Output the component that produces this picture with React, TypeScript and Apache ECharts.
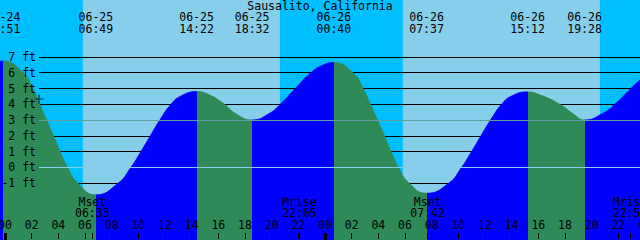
import React, { useEffect, useRef } from "react";
import * as echarts from "echarts";

// ---------- data ----------
const chartTitle = "Sausalito, California";

// tide extremes (high / low)
const tideEventDates = ["06-24", "06-25", "06-25", "06-25", "06-26", "06-26", "06-26", "06-26"];
const tideEventTimes = ["23:51", "06:49", "14:22", "18:32", "00:40", "07:37", "15:12", "19:28"];

// tide curve: hours since 06-25 00:00, level in ft
const tideHours = [
  -0.375, -0.15, 1.35, 2.08, 2.6, 3.12, 3.63, 4.13, 4.68, 5.45, 6.817,
  8.5, 9.45, 10.2, 10.9, 11.62, 12.45, 13.15, 14.367,
  15.3, 16.45, 17.3, 18.533,
  19.8, 20.65, 21.78, 22.95, 23.9, 24.667,
  26.1, 26.85, 27.4, 27.93, 28.45, 28.95, 29.5, 30.3, 31.617,
  33.3, 34.25, 35.0, 35.7, 36.42, 37.25, 37.95, 39.2,
  40.1, 41.6, 42.6, 43.467,
  44.8, 45.75, 46.95, 47.625,
];
const tideFeet = [
  6.72, 6.74, 6.0, 5.0, 4.0, 3.0, 2.0, 1.0, 0.0, -1.0, -1.75,
  -1.0, 0.0, 1.0, 2.0, 3.0, 4.0, 4.5, 4.8,
  4.6, 4.0, 3.4, 3.0,
  3.4, 4.0, 5.0, 6.0, 6.5, 6.64,
  6.0, 5.0, 4.0, 3.0, 2.0, 1.0, 0.0, -1.0, -1.65,
  -1.0, 0.0, 1.0, 2.0, 3.0, 4.0, 4.5, 4.78,
  4.6, 4.0, 3.4, 3.0,
  3.4, 4.0, 5.0, 5.55,
];

// sun
const sunriseDates = ["06-25", "06-26"];
const sunriseTimes = ["05:50", "05:50"];
const sunsetDates = ["06-25", "06-26"];
const sunsetTimes = ["20:37", "20:37"];

// moon
const moonEvents = ["Mset", "Mrise", "Mset", "Mrise"];
const moonDates = ["06-25", "06-25", "06-26", "06-26"];
const moonTimes = ["06:33", "22:05", "07:42", "22:53"];

// level lines / labels (ft)
const levelTicks = [-2, -1, 0, 1, 2, 3, 4, 5, 6, 7];
const datumLevel = 0;
const meanLevel = 3;

// "now" marker
const nowDate = "06-25";
const nowTime = "02:33";
const nowFeet = 4.33;

// ---------- style / layout ----------
const W = 640;
const H = 240;
const NIGHT = "#00BFFF";
const DAY = "#87CEEB";
const RISE = "#0000FF";
const FALL = "#2E8B57";
const DATUM_COLOR = "#87CEEB";
const MSL_COLOR = "#5F9EA0";
const FONT = "DejaVu Sans Mono";
const FS = 11.5;

const PX_PER_HOUR = 40 / 3;
const MIDNIGHT_X = 5;
const X_MIN = -MIDNIGHT_X / PX_PER_HOUR;
const X_MAX = (W - MIDNIGHT_X) / PX_PER_HOUR;
const ZERO_Y = 167.3;
const PX_PER_FT = 15.76;
const Y_MAX = ZERO_Y / PX_PER_FT;
const Y_MIN = -(H - ZERO_Y) / PX_PER_FT;
const LINE_LEFT = 39;
const LV_MIN = levelTicks[0];
const LV_MAX = levelTicks[levelTicks.length - 1];
const LV_TOP = ZERO_Y - LV_MAX * PX_PER_FT;
const LV_BOTTOM = H - (ZERO_Y - LV_MIN * PX_PER_FT);
const AXIS_SPAN = 48;
const AXIS_RIGHT = W - (MIDNIGHT_X + AXIS_SPAN * PX_PER_HOUR);

function toHours(date: string, time: string): number {
  const day = parseInt(date.slice(3), 10) - 25;
  const [h, m] = time.split(":").map(Number);
  return day * 24 + h + m / 60;
}

const tideEventHours = tideEventDates.map((d, i) => toHours(d, tideEventTimes[i]));
const moonHours = moonDates.map((d, i) => toHours(d, moonTimes[i]));
const sunrises = sunriseDates.map((d, i) => toHours(d, sunriseTimes[i]));
const sunsets = sunsetDates.map((d, i) => toHours(d, sunsetTimes[i]));

function findIdx(arr: number[], v: number) {
  let best = 0;
  for (let i = 0; i < arr.length; i++) if (Math.abs(arr[i] - v) < Math.abs(arr[best] - v)) best = i;
  return best;
}

function buildOption() {
  // rising / falling pieces
  const pieces: any[] = [];
  const isHigh = (i: number) => {
    const idx = findIdx(tideHours, tideEventHours[i]);
    const nextIdx = Math.min(idx + 1, tideFeet.length - 1);
    return tideFeet[idx] > tideFeet[nextIdx];
  };
  pieces.push({ lt: tideEventHours[0], color: isHigh(0) ? RISE : FALL });
  for (let i = 0; i < tideEventHours.length; i++) {
    const next = tideEventHours[i + 1];
    const color = isHigh(i) ? FALL : RISE;
    if (next === undefined) pieces.push({ gte: tideEventHours[i], color });
    else pieces.push({ gte: tideEventHours[i], lt: next, color });
  }

  const txt = { fontFamily: FONT, fontSize: FS, color: "#000" };
  const hiddenY = (gridIndex: number) => ({ type: "value", gridIndex, min: 0, max: 1, show: false });
  const g = (o: any) => ({ ...o, outerBoundsMode: "none", containLabel: false });

  return {
    animation: false,
    backgroundColor: NIGHT,
    title: {
      text: chartTitle,
      left: "center",
      top: 0,
      padding: 0,
      textStyle: { ...txt, fontWeight: "normal", lineHeight: 11 },
    },
    grid: [
      g({ left: 0, right: 0, top: 0, bottom: 0 }),
      g({ left: LINE_LEFT, right: 0, top: LV_TOP, bottom: LV_BOTTOM }),
      g({ left: 0, right: 0, top: 0, bottom: 0 }),
      g({ left: MIDNIGHT_X, right: AXIS_RIGHT, top: 0, bottom: 1 }),
      g({ left: MIDNIGHT_X, right: AXIS_RIGHT, top: 0, bottom: 0 }),
      g({ left: MIDNIGHT_X, right: AXIS_RIGHT, top: 0, bottom: 1 }),
    ],
    xAxis: [
      { type: "value", gridIndex: 0, min: X_MIN, max: X_MAX, show: false },
      { type: "value", gridIndex: 1, min: 0, max: 1, show: false },
      {
        type: "value", gridIndex: 2, position: "top", min: X_MIN, max: X_MAX, z: 10,
        axisLine: { show: false }, axisTick: { show: false }, splitLine: { show: false },
        axisLabel: {
          inside: true, margin: 11, customValues: tideEventHours, ...txt, lineHeight: 12, align: "center",
          formatter: (v: number) => {
            const i = findIdx(tideEventHours, v);
            return `${tideEventDates[i]}\n${tideEventTimes[i]}`;
          },
        },
      },
      {
        type: "value", gridIndex: 3, position: "bottom", min: 0, max: AXIS_SPAN, interval: 2, z: 10,
        axisLine: { show: false }, splitLine: { show: false },
        axisTick: { show: true, inside: true, length: 6, lineStyle: { color: "#000", width: 1 } },
        axisLabel: {
          inside: true, margin: 8, ...txt, lineHeight: 12, align: "center",
          formatter: (v: number) => String(v % 24).padStart(2, "0"),
        },
      },
      {
        type: "value", gridIndex: 4, position: "bottom", min: 0, max: AXIS_SPAN, z: 10,
        axisLine: { show: false }, splitLine: { show: false }, axisLabel: { show: false },
        axisTick: { show: true, inside: true, length: 7, customValues: [0, 24, 48], lineStyle: { color: "#000", width: 3 } },
      },
      {
        type: "value", gridIndex: 5, position: "bottom", min: 0, max: AXIS_SPAN, z: 10,
        axisLine: { show: false }, splitLine: { show: false },
        axisTick: { show: true, inside: true, length: 6, customValues: moonHours, lineStyle: { color: "#000", width: 1 } },
        axisLabel: {
          inside: true, margin: 21, customValues: moonHours, ...txt, lineHeight: 11, align: "center",
          formatter: (v: number) => {
            const i = findIdx(moonHours, v);
            return `${moonEvents[i]}\n${moonTimes[i]}`;
          },
        },
      },
    ],
    yAxis: [
      { type: "value", gridIndex: 0, min: Y_MIN, max: Y_MAX, show: false },
      {
        type: "value", gridIndex: 1, position: "right", min: LV_MIN, max: LV_MAX, interval: 1, z: 1,
        axisLine: { show: false }, axisTick: { show: false }, axisLabel: { show: false },
        splitLine: { show: true, lineStyle: { color: "#000", width: 1 } },
      },
      {
        type: "value", gridIndex: 1, position: "left", min: LV_MIN, max: LV_MAX, interval: 1, z: 10,
        axisLine: { show: false }, axisTick: { show: false }, splitLine: { show: false },
        axisLabel: {
          margin: 3, ...txt,
          formatter: (v: number) => (v === LV_MIN ? "" : `${v} ft`),
        },
      },
      hiddenY(2),
      hiddenY(3),
      hiddenY(4),
      hiddenY(5),
    ],
    visualMap: {
      type: "piecewise",
      show: false,
      dimension: 0,
      seriesIndex: 1,
      pieces,
    },
    series: [
      {
        type: "line",
        xAxisIndex: 0,
        yAxisIndex: 0,
        data: [[X_MIN, 0]],
        symbol: "none",
        lineStyle: { opacity: 0 },
        silent: true,
        z: 0,
        markArea: {
          silent: true,
          z: 0,
          itemStyle: { color: DAY },
          data: sunrises.map((s, i) => [{ xAxis: s }, { xAxis: sunsets[i] }]),
        },
      },
      {
        type: "line",
        xAxisIndex: 0,
        yAxisIndex: 0,
        data: tideHours.map((h, i) => [h, tideFeet[i]]),
        smooth: 0.5,
        symbol: "none",
        lineStyle: { width: 1 },
        areaStyle: { origin: "start", opacity: 1 },
        silent: true,
        z: 2,
      },
      {
        type: "line",
        xAxisIndex: 1,
        yAxisIndex: 1,
        data: [],
        symbol: "none",
        silent: true,
        z: 3,
        markLine: {
          silent: true,
          z: 5,
          symbol: ["none", "none"],
          label: { show: false },
          lineStyle: { width: 1, type: "solid" },
          data: [
            { yAxis: datumLevel, lineStyle: { color: DATUM_COLOR, width: 1, type: "solid" } },
            { yAxis: meanLevel, lineStyle: { color: MSL_COLOR, width: 1, type: "solid" } },
          ],
        },
      },
      {
        type: "scatter",
        xAxisIndex: 0,
        yAxisIndex: 0,
        data: [[toHours(nowDate, nowTime), nowFeet]],
        symbol: "path://M3.5,0h1v3.5h3.5v1h-3.5v3.5h-1v-3.5h-3.5v-1h3.5z",
        symbolSize: 9,
        itemStyle: { color: "#000" },
        silent: true,
        z: 10,
      },
    ],
  };
}

export default function App() {
  const ref = useRef<HTMLDivElement>(null);
  useEffect(() => {
    if (!ref.current) return;
    const chart = echarts.init(ref.current, undefined, { renderer: "svg" });
    chart.setOption(buildOption() as any);
    return () => chart.dispose();
  }, []);
  return (
    <div
      ref={ref}
      style={{ position: "absolute", left: 0, top: 0, width: W, height: H }}
    />
  );
}
